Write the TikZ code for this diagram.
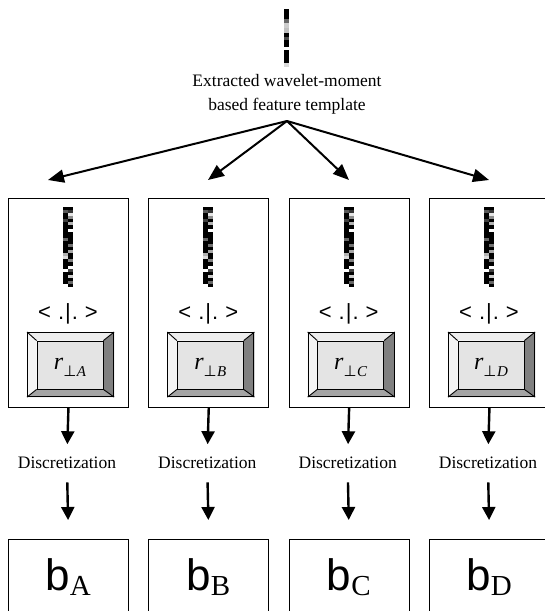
\documentclass[tikz,border=0pt]{standalone}
\usepackage{fontspec}
\setmainfont{Liberation Serif}
\newfontfamily\arialf{Liberation Sans}
\newfontfamily\dvsf{DejaVu Sans}
\usetikzlibrary{arrows.meta,backgrounds}
\definecolor{bvtop}{HTML}{EDEDED}
\definecolor{bvleft}{HTML}{F4F4F4}
\definecolor{bvright}{HTML}{808080}
\definecolor{bvbot}{HTML}{A4A4A4}
\definecolor{bvface}{HTML}{E4E4E4}
\newcommand\mybarcode[2]{%
  \foreach \v [count=\i from 0] in {100,65,100,100,75,100,100,100,100,100,60,100,100,100,100,30,15,100,100,100,0,100,100,100,100,0}
    \fill[black!\v] (#1-5,#2+\i*3.08) rectangle ++(5,3.1);
  \foreach \v [count=\i from 0] in {100,80,10,45,100,30,100,0,100,100,100,100,55,100,35,100,100,50,100,0,75,100,20,100,60,100}
    \fill[black!\v] (#1,#2+\i*3.08) rectangle ++(5,3.1);
}
\begin{document}
\begin{tikzpicture}[x=1pt,y=-1pt,
  frame/.style={draw, line width=0.9pt, inner sep=0pt, anchor=north west, minimum width=120pt},
  upbox/.style={frame, minimum height=209pt},
  lowbox/.style={frame, minimum height=100pt},
  bvout/.style={draw, line width=1.1pt, inner sep=0pt, anchor=north west, minimum width=86pt, minimum height=64pt},
  bvin/.style={draw, line width=0.9pt, inner sep=0pt, minimum width=66pt, minimum height=48pt},
  serlbl/.style={font=\fontsize{17.5}{20}\selectfont, inner sep=0pt},
  arr/.style={line width=2.4pt, -{Triangle[length=13pt,width=13pt]}},
  fan/.style={line width=2pt, -{Triangle[length=16pt,width=13pt]}}
]
\useasboundingbox (0,0) rectangle (545,611);
\begin{scope}[on background layer]
  \fill[white] (0,0) rectangle (545,611);
\end{scope}
\clip (0,0) rectangle (545,611);

% top template barcode
\foreach \a/\b/\g in {9/19/100,19/23/60,23/28/20,28/33/25,33/37/100,37/40/70,40/47/100,47/50/0,50/63/100,63/67/15}
  \fill[black!\g] (284,\a) rectangle (289,\b);

\node[serlbl, anchor=base] (t1) at (287,86) {Extracted wavelet-moment};
\node[serlbl, anchor=base] (t2) at (287,110) {based feature template};
\coordinate (src) at (287,121);

\foreach \n/\x/\tx in {A/8/48,B/148.3/208,C/288.7/349,D/429/489}{
  \coordinate (tip\n) at (\tx,180);
  \draw[fan] (src) -- (tip\n);
  \node[upbox] (box\n) at (\x,198) {};
  \mybarcode{\x+60}{207}
  \node[font=\arialf\fontsize{22}{22}\selectfont, inner sep=0pt, anchor=base] (ip\n) at (\x+60,319) {<\hspace{7pt}.\kern1pt|\kern1pt.\hspace{7pt}>};
  \node[bvout] (bo\n) at (\x+19,332) {};
  \node[bvin] (bi\n) at (\x+62,365) {};
  \begin{scope}[on background layer]
    \fill[bvface] (bi\n.north west) rectangle (bi\n.south east);
    \fill[bvtop] (bo\n.north west) -- (bo\n.north east) -- (bi\n.north east) -- (bi\n.north west) -- cycle;
    \fill[bvleft] (bo\n.north west) -- (bi\n.north west) -- (bi\n.south west) -- (bo\n.south west) -- cycle;
    \fill[bvright] (bo\n.north east) -- (bi\n.north east) -- (bi\n.south east) -- (bo\n.south east) -- cycle;
    \fill[bvbot] (bo\n.south west) -- (bi\n.south west) -- (bi\n.south east) -- (bo\n.south east) -- cycle;
  \end{scope}
  \draw[line width=0.9pt] (bo\n.north west) -- (bi\n.north west) (bo\n.north east) -- (bi\n.north east)
        (bo\n.south west) -- (bi\n.south west) (bo\n.south east) -- (bi\n.south east);
  \node[inner sep=0pt, anchor=base] (r\n) at (\x+62,369)
    {\fontsize{24}{24}\selectfont\itshape r\raisebox{-7pt}{\fontsize{15}{15}\selectfont{\dvsf\upshape ⊥}\kern0.5pt \n}};
  \node[serlbl, anchor=base] (d\n) at (\x+59,468) {Discretization};
  \node[lowbox] (low\n) at (\x,539) {};
  \node[inner sep=0pt, anchor=base] (b\n) at (\x+60,590)
    {{\arialf\fontsize{44}{44}\selectfont b}\raisebox{-5pt}{\fontsize{29}{29}\selectfont \n}};
  \draw[arr, shorten >=12pt] (box\n.south) -- (d\n.north);
  \draw[arr, shorten <=14pt, shorten >=19pt] (d\n.south) -- (low\n.north);
}
\end{tikzpicture}
\end{document}
